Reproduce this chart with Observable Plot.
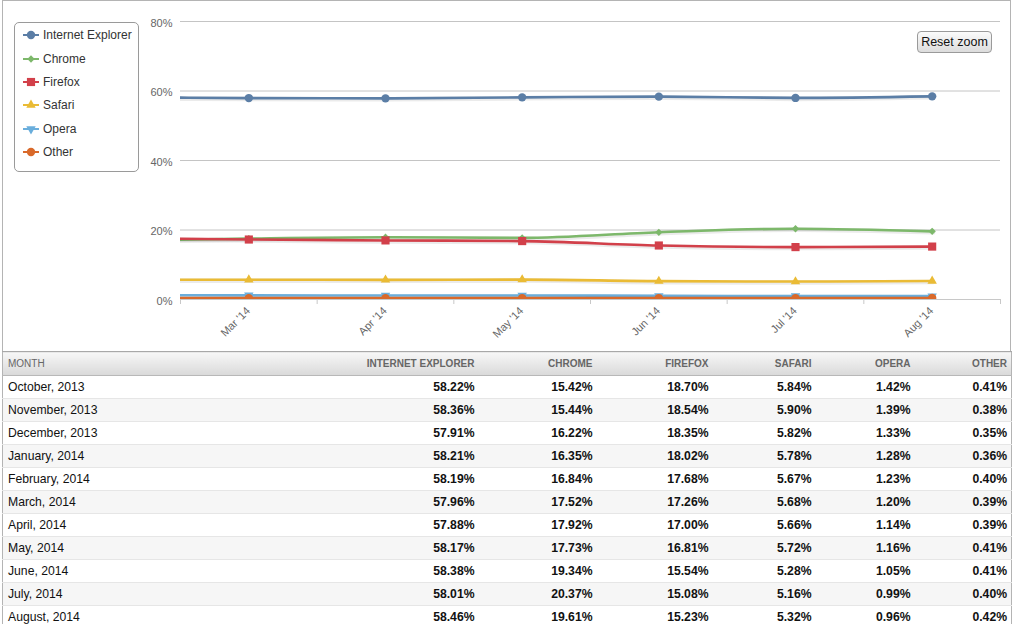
<!DOCTYPE html>
<html>
<head>
<meta charset="utf-8">
<script src="https://cdn.jsdelivr.net/npm/d3@7"></script>
<script src="https://cdn.jsdelivr.net/npm/@observablehq/plot@0.6"></script>
<style>
  html, body { margin: 0; padding: 0; background: #fff; }
  #wrap { position: relative; width: 1013px; height: 624px; overflow: hidden; font-family: "Liberation Sans", Arial, sans-serif; }
  #frame { position: absolute; left: 2px; top: 0; width: 1009px; height: 352px; box-sizing: border-box; border: 1px solid #b4b4b4; }
  #plot { position: absolute; left: 0; top: 0; }
  #legend { position: absolute; left: 14px; top: 22px; width: 125px; height: 150px; box-sizing: border-box; border: 1px solid #9a9a9a; border-radius: 5px; padding-top: 0.5px; background: #fff; }
  .item { height: 23.4px; display: flex; align-items: center; padding-left: 7px; font-size: 12px; color: #333; white-space: nowrap; }
  .item svg { margin-right: 3px; }
  #reset { position: absolute; left: 917px; top: 31px; width: 75px; height: 22px; box-sizing: border-box; border: 1px solid #9a9a9a; border-radius: 4px; background: linear-gradient(#fbfbfb, #dcdcdc); font-family: "Liberation Sans", Arial, sans-serif; font-size: 12.5px; color: #111; display: flex; align-items: center; justify-content: center; }
  #tbl { position: absolute; left: 2px; top: 351px; width: 1009px; border-collapse: collapse; table-layout: fixed; border-left: 1px solid #b4b4b4; border-right: 1px solid #b4b4b4; }
  #tbl th { height: 23px; padding: 0 7px 0 5px; font-size: 10px; color: #666; text-transform: uppercase; background: linear-gradient(#f7f7f7, #d9d9d9); border-top: 1px solid #a8a8a8; border-bottom: 1px solid #b8b8b8; text-align: right; font-weight: bold; }
  #tbl th:first-child { text-align: left; font-weight: normal; }
  #tbl td { height: 22px; padding: 0 7px 0 5px; font-size: 12.2px; color: #111; text-align: right; font-weight: bold; border-bottom: 1px solid #e6e6e6; }
  #tbl td:first-child { text-align: left; font-weight: normal; }
  #tbl th:last-child, #tbl td:last-child { padding-right: 4px; }
  #tbl tr.odd td { background: #f6f6f6; }
</style>
</head>
<body>
<div id="wrap">
  <div id="frame"></div>
  <div id="plot"></div>
  <div id="legend"></div>
  <div id="reset">Reset zoom</div>
  <table id="tbl"></table>
</div>
<script>
// ---- data ----
const months = ["October, 2013", "November, 2013", "December, 2013", "January, 2014", "February, 2014", "March, 2014", "April, 2014", "May, 2014", "June, 2014", "July, 2014", "August, 2014"];
const shortMonths = ["Oct '13", "Nov '13", "Dec '13", "Jan '14", "Feb '14", "Mar '14", "Apr '14", "May '14", "Jun '14", "Jul '14", "Aug '14"];
const browsers = ["Internet Explorer", "Chrome", "Firefox", "Safari", "Opera", "Other"];
const ie      = [58.22, 58.36, 57.91, 58.21, 58.19, 57.96, 57.88, 58.17, 58.38, 58.01, 58.46];
const chrome  = [15.42, 15.44, 16.22, 16.35, 16.84, 17.52, 17.92, 17.73, 19.34, 20.37, 19.61];
const firefox = [18.70, 18.54, 18.35, 18.02, 17.68, 17.26, 17.00, 16.81, 15.54, 15.08, 15.23];
const safari  = [5.84, 5.90, 5.82, 5.78, 5.67, 5.68, 5.66, 5.72, 5.28, 5.16, 5.32];
const opera   = [1.42, 1.39, 1.33, 1.28, 1.23, 1.20, 1.14, 1.16, 1.05, 0.99, 0.96];
const other   = [0.41, 0.38, 0.35, 0.36, 0.40, 0.39, 0.39, 0.41, 0.41, 0.40, 0.42];
const yTicks = [0, 20, 40, 60, 80];
const zoomStart = 5; // first visible month (March 2014)

// ---- styles ----
const colors = ["#5b7ea6", "#7db86b", "#d2404a", "#eabb35", "#6aaedc", "#d9692a"];
const symbols = ["circle", "diamond2", "square", "triangle", "triangle", "circle"];
const radii = [4.2, 3.3, 4.6, 3.5, 3.5, 4.2];
const rotations = [0, 0, 0, 0, 180, 0];
const seriesValues = [ie, chrome, firefox, safari, opera, other];

const series = browsers.map((name, s) => ({
  name, color: colors[s], symbol: symbols[s], r: radii[s], rotate: rotations[s],
  points: seriesValues[s].map((v, i) => ({i, v}))
}));

const visibleIdx = d3.range(zoomStart, months.length);
const tickIdx = d3.range(zoomStart - 0.5, months.length, 1);

const marks = [
  Plot.ruleY(yTicks.filter(d => d > 0), {stroke: "#c4c4c4", strokeWidth: 1}),
  Plot.ruleY([0], {stroke: "#c8c8c8", strokeWidth: 1}),
  Plot.axisY({ticks: yTicks, tickSize: 0, tickPadding: 8, dy: 1.5, tickFormat: d => d + "%", fill: "#666", fontSize: 11, label: null}),
  Plot.axisX({ticks: tickIdx, tickSize: 5, tickFormat: () => "", stroke: "#c8c8c8", label: null}),
  Plot.text(visibleIdx, {x: d => d, text: d => shortMonths[d], frameAnchor: "bottom", rotate: -45, textAnchor: "end", dy: 12, dx: 2, fill: "#666", fontSize: 11})
];
for (const s of series) {
  marks.push(Plot.line(s.points, {x: "i", y: "v", stroke: "#000", strokeOpacity: 0.08, strokeWidth: 4.5, dx: 1, dy: 1, curve: "monotone-x", clip: true}));
  marks.push(Plot.line(s.points, {x: "i", y: "v", stroke: s.color, strokeWidth: 2.6, curve: "monotone-x", clip: true}));
  marks.push(Plot.dot(s.points.filter(p => p.i >= zoomStart), {x: "i", y: "v", symbol: s.symbol, r: s.r, fill: s.color, stroke: "none", rotate: s.rotate, clip: true}));
}

const chart = Plot.plot({
  width: 1013,
  height: 350,
  marginLeft: 180,
  marginRight: 13,
  marginTop: 21,
  marginBottom: 51,
  style: {fontFamily: "'Liberation Sans', Arial, sans-serif", background: "transparent", overflow: "visible"},
  x: {type: "linear", domain: [zoomStart - 0.5, months.length - 0.5], axis: null},
  y: {domain: [0, 80], axis: null},
  marks
});
document.getElementById("plot").appendChild(chart);

// ---- legend ----
const legend = d3.select("#legend");
const symMap = {circle: d3.symbolCircle, diamond2: d3.symbolDiamond2, square: d3.symbolSquare, triangle: d3.symbolTriangle};
series.forEach(s => {
  const item = legend.append("div").attr("class", "item");
  const sv = item.append("svg").attr("width", 18).attr("height", 12);
  sv.append("line").attr("x1", 1).attr("x2", 17).attr("y1", 6).attr("y2", 6).attr("stroke", s.color).attr("stroke-width", 2);
  sv.append("path").attr("d", d3.symbol(symMap[s.symbol], Math.PI * s.r * s.r)())
    .attr("transform", `translate(9,6) rotate(${s.rotate})`).attr("fill", s.color);
  item.append("span").text(s.name);
});

// ---- table ----
const tbl = d3.select("#tbl");
const colWidths = [200, 279, 118, 116, 103, 99, 94];
const cg = tbl.append("colgroup");
colWidths.forEach(w => cg.append("col").style("width", w + "px"));
const head = tbl.append("thead").append("tr");
["Month", ...browsers].forEach(h => head.append("th").text(h));
const body = tbl.append("tbody");
months.forEach((m, i) => {
  const tr = body.append("tr").attr("class", i % 2 ? "odd" : "even");
  tr.append("td").text(m);
  seriesValues.forEach(arr => tr.append("td").text(arr[i].toFixed(2) + "%"));
});
</script>
</body>
</html>
